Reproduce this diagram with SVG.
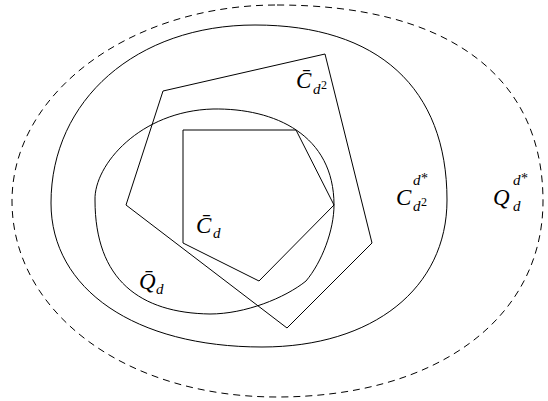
<svg xmlns="http://www.w3.org/2000/svg" width="548" height="401" viewBox="0 0 548 401">
<style>
.ln{fill:none;stroke:#000;stroke-width:1;stroke-linejoin:miter}
.dash{stroke-dasharray:7 5}
.t{font-family:"Liberation Serif","DejaVu Serif",serif;fill:#000}
.it{font-style:italic}
.m{font-size:23px}
.s{font-size:15px}
.ss{font-size:12px}
.st{font-size:14px}
</style>
<rect width="548" height="401" fill="#fff"/>
<g id="Qdstar">
<path class="ln dash" d="M277,5 C447.2,5 543,75.6 543,201 C543,318.6 436.6,397 277,397 C126,397 12,312.7 12,201 C12,92.8 130.7,5 277,5 Z"/>
<text class="t" y="205"><tspan class="m it" x="493">Q</tspan><tspan class="s it" x="513" y="185">d</tspan><tspan class="st" x="521" y="183">*</tspan><tspan class="s it" x="513" y="211">d</tspan></text>
</g>
<g id="Cd2star">
<path class="ln" d="M51,203 C51,99.8 136.7,25 255,25 C377.9,25 447,88 447,200 C447,288.2 373,347 262,347 C135.4,347 51,289.4 51,203 Z"/>
<text class="t" y="205"><tspan class="m it" x="396">C</tspan><tspan class="s it" x="413" y="185">d</tspan><tspan class="st" x="421" y="183">*</tspan><tspan class="s it" x="413" y="211">d</tspan><tspan class="ss" x="421" y="206">2</tspan></text>
</g>
<g id="Qd">
<path class="ln" d="M95,200 C94,165 140,111 213,109 C275,108 334,135 334,205 C334,230 322,262 306,281 C285,298 245,314 210,314 C140,313 95,280 95,200 Z"/>
<text class="t" y="289"><tspan class="m it" x="139">Q̄</tspan><tspan class="s it" x="156" y="294">d</tspan></text>
</g>
<g id="Cd2">
<polygon class="ln" points="163,91 325,54 372,243 287,328 126,205"/>
<text class="t" y="88"><tspan class="m it" x="296">C̄</tspan><tspan class="s it" x="313" y="94">d</tspan><tspan class="ss" x="321" y="89">2</tspan></text>
</g>
<g id="Cd">
<polygon class="ln" points="183,130 296,130 334,205 259,281 183,243"/>
<text class="t" y="233"><tspan class="m it" x="196">C̄</tspan><tspan class="s it" x="213" y="238">d</tspan></text>
</g>
<g id="connectors"></g>
</svg>
